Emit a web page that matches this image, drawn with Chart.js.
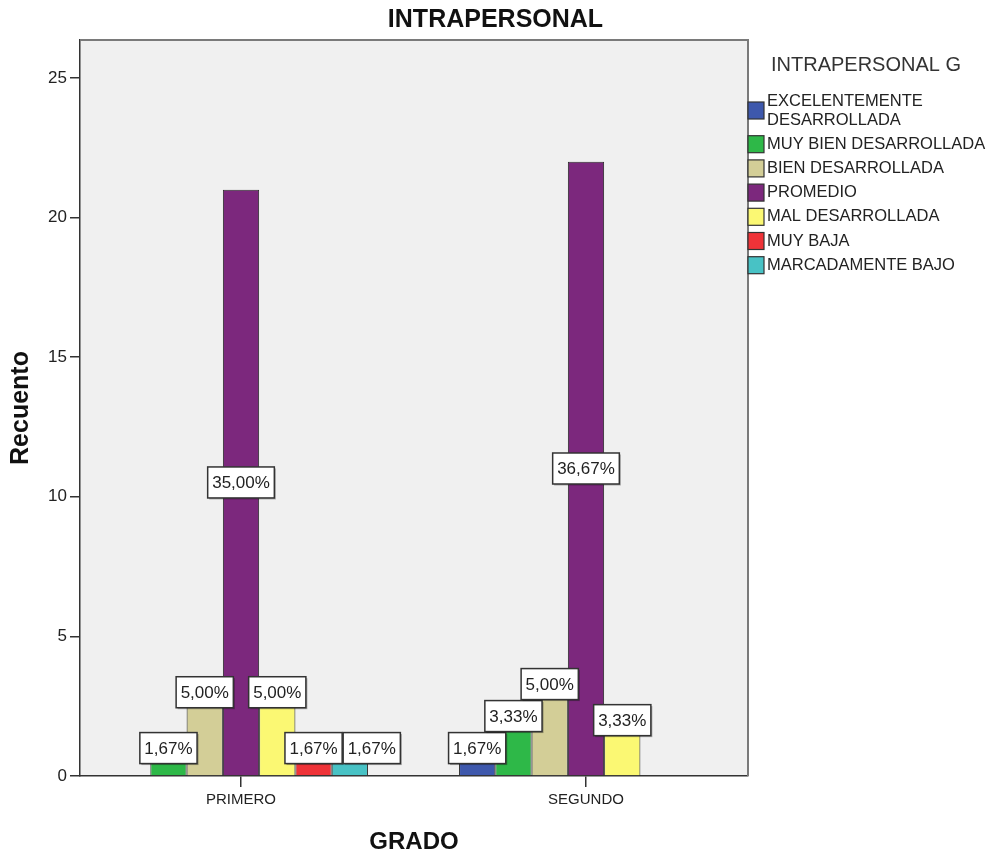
<!DOCTYPE html>
<html>
<head>
<meta charset="utf-8">
<title>INTRAPERSONAL</title>
<script src="https://cdn.jsdelivr.net/npm/chart.js@4.4.1/dist/chart.umd.min.js"></script>
<style>
    body { margin: 0; background: #fff; }
    #wrap { width: 991px; height: 857px; }
</style>
</head>
<body>
<div id="wrap"><canvas id="myChart"></canvas></div>
<script>
// Counts (60 students in total)
const categories = ["PRIMERO", "SEGUNDO"];
const seriesNames = [
    "EXCELENTEMENTE DESARROLLADA",
    "MUY BIEN DESARROLLADA",
    "BIEN DESARROLLADA",
    "PROMEDIO",
    "MAL DESARROLLADA",
    "MUY BAJA",
    "MARCADAMENTE BAJO"
];
const excelente = [0, 1];
const muyBien = [1, 2];
const bien = [3, 3];
const promedio = [21, 22];
const mal = [3, 2];
const muyBaja = [1, 0];
const marcadamente = [1, 0];
const yTicks = [0, 5, 10, 15, 20, 25];

const chartTitle = "INTRAPERSONAL";
const legendTitle = "INTRAPERSONAL G";

const seriesColors = ["#3E58AC", "#2EB848", "#D3CE97", "#7C287D", "#FBF873", "#EF3338", "#48C2C5"];
const fontName = "'Liberation Sans', Arial, sans-serif";

const seriesValues = [excelente, muyBien, bien, promedio, mal, muyBaja, marcadamente];
const total = seriesValues.flat().reduce((a, b) => a + b, 0);

const datasets = seriesNames.map((name, s) => ({
    label: name,
    data: seriesValues[s].map((v, i) => ({ x: i, y: v })),
    backgroundColor: seriesColors[s],
    borderColor: "#2a2a2a",
    borderWidth: (c) => (c.raw && c.raw.y === 0) ? 0 : 1,
    categoryPercentage: 0.736,
    barPercentage: 1
}));

// Background, frame, % labels, title and legend like SPSS
const spssExtras = {
    id: "spssExtras",
    beforeDraw(chart) {
        const { ctx, chartArea: a } = chart;
        ctx.save();
        ctx.fillStyle = "#F0F0F0";
        ctx.fillRect(a.left, a.top, a.right - a.left, a.bottom - a.top);
        ctx.restore();
    },
    afterDatasetsDraw(chart) {
        const ctx = chart.ctx;
        ctx.save();
        ctx.font = `17px ${fontName}`;
        const placed = [];
        categories.forEach((c, i) => {
            chart.data.datasets.forEach((ds, d) => {
                const v = ds.data[i].y;
                if (!v) return;
                const bar = chart.getDatasetMeta(d).data[i];
                const text = (v / total * 100).toFixed(2).replace(".", ",") + "%";
                const w = ctx.measureText(text).width + 9, h = 31;
                const cy = v >= 10 ? (bar.y + bar.base) / 2 : bar.y;
                const box = { l: bar.x - w / 2, r: bar.x + w / 2, t: cy - h / 2, b: cy + h / 2, text };
                // push away from labels already placed
                placed.forEach(p => {
                    const ox = Math.min(box.r, p.r) - Math.max(box.l, p.l);
                    const oy = Math.min(box.b, p.b) - Math.max(box.t, p.t);
                    if (ox > 0 && oy > 0) {
                        if (oy <= ox) { box.t -= oy + 1; box.b -= oy + 1; }
                        else { box.l += ox + 1; box.r += ox + 1; }
                    }
                });
                placed.push(box);
            });
        });
        placed.forEach(b => {
            ctx.shadowColor = "rgba(0,0,0,0.3)";
            ctx.shadowOffsetX = 1.5;
            ctx.shadowOffsetY = 1.5;
            ctx.fillStyle = "#fff";
            ctx.fillRect(b.l, b.t, b.r - b.l, b.b - b.t);
            ctx.shadowColor = "transparent";
            ctx.strokeStyle = "#333";
            ctx.lineWidth = 1.5;
            ctx.strokeRect(b.l, b.t, b.r - b.l, b.b - b.t);
            ctx.fillStyle = "#222";
            ctx.textAlign = "center";
            ctx.textBaseline = "middle";
            ctx.fillText(b.text, (b.l + b.r) / 2, (b.t + b.b) / 2 + 1);
        });
        ctx.restore();
    },
    afterDraw(chart) {
        const { ctx, chartArea: a } = chart;
        ctx.save();
        // top and right frame
        ctx.strokeStyle = "#7a7a7a";
        ctx.lineWidth = 2;
        ctx.beginPath();
        ctx.moveTo(a.left, a.top);
        ctx.lineTo(a.right, a.top);
        ctx.lineTo(a.right, a.bottom);
        ctx.stroke();

        // chart title
        ctx.fillStyle = "#111";
        ctx.font = `bold 25px ${fontName}`;
        ctx.textAlign = "center";
        ctx.textBaseline = "middle";
        ctx.fillText(chartTitle, chart.width / 2, 20);

        // legend
        ctx.textAlign = "left";
        ctx.fillStyle = "#333";
        ctx.font = `20px ${fontName}`;
        ctx.fillText(legendTitle, a.right + 23, 65);

        ctx.font = `16.5px ${fontName}`;
        let y = 101;
        seriesNames.forEach((name, s) => {
            const lines = [];
            name.split(" ").forEach(word => {
                const last = lines[lines.length - 1];
                if (last && ctx.measureText(last + " " + word).width < 230) lines[lines.length - 1] = last + " " + word;
                else lines.push(word);
            });
            const midY = y + (lines.length - 1) * 19 / 2;
            ctx.fillStyle = seriesColors[s];
            ctx.fillRect(a.right, midY - 8.5, 16, 17);
            ctx.strokeStyle = "#333";
            ctx.lineWidth = 1.2;
            ctx.strokeRect(a.right, midY - 8.5, 16, 17);
            ctx.fillStyle = "#222";
            lines.forEach((ln, k) => ctx.fillText(ln, a.right + 19, y + k * 19));
            y += (lines.length - 1) * 19 + 24.2;
        });
        ctx.restore();
    }
};

const ctx = document.getElementById("myChart").getContext("2d");
const myChart = new Chart(ctx, {
    type: "bar",
    data: { datasets: datasets },
    plugins: [spssExtras],
    options: {
        responsive: true,
        maintainAspectRatio: false,
        animation: false,
        layout: { padding: { top: 40, right: 243, left: 0, bottom: 0 } },
        plugins: {
            legend: { display: false },
            title: { display: false },
            tooltip: { enabled: false }
        },
        scales: {
            x: {
                type: "linear",
                min: -0.4667,
                max: 1.4696,
                offset: false,
                afterBuildTicks: (scale) => { scale.ticks = categories.map((c, i) => ({ value: i })); },
                afterFit: (scale) => { scale.height = 81; },
                grid: { offset: false, drawOnChartArea: false, drawTicks: true, tickLength: 11, color: "#333", lineWidth: 1.5 },
                border: { display: true, color: "#333", width: 1.5 },
                ticks: {
                    callback: (v) => categories[v],
                    font: { family: fontName, size: 15 },
                    color: "#222",
                    padding: 4,
                    maxRotation: 0
                },
                title: {
                    display: true,
                    text: "GRADO",
                    font: { family: fontName, size: 24, weight: "bold" },
                    color: "#111",
                    padding: { top: 0, bottom: 0 }
                }
            },
            y: {
                min: 0,
                max: 26.36,
                afterBuildTicks: (scale) => { scale.ticks = yTicks.map(v => ({ value: v })); },
                afterFit: (scale) => { scale.width = 80; },
                grid: { drawOnChartArea: false, drawTicks: true, tickLength: 10, color: "#333", lineWidth: 1.5 },
                border: { display: true, color: "#333", width: 1.5 },
                ticks: {
                    font: { family: fontName, size: 17 },
                    color: "#222",
                    padding: 3
                },
                title: {
                    display: true,
                    text: "Recuento",
                    font: { family: fontName, size: 25, weight: "bold" },
                    color: "#111",
                    padding: { top: 6, bottom: 0 }
                }
            }
        }
    }
});
</script>
</body>
</html>
